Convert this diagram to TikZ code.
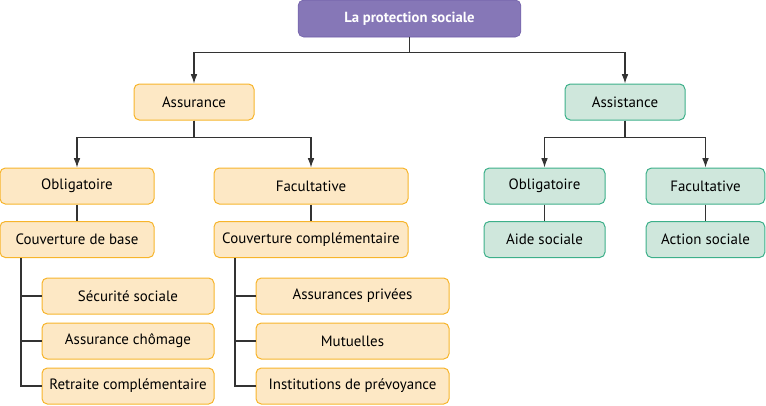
\documentclass[tikz,border=0pt]{standalone}
\usepackage{fontspec}
\setmainfont{PT Sans}
\usetikzlibrary{arrows.meta}
\definecolor{violet}{HTML}{8677B7}
\definecolor{violetline}{HTML}{6F5DA8}
\definecolor{orangefill}{HTML}{FDE8C5}
\definecolor{orangeline}{HTML}{F7B52C}
\definecolor{greenfill}{HTML}{CFE7DC}
\definecolor{greenline}{HTML}{3DB08A}
\begin{document}
\begin{tikzpicture}[x=0.75pt, y=-0.75pt, >={Latex[length=7pt,width=5pt]},
    every node/.style={font=\fontsize{11.2}{13}\selectfont, minimum height=27pt, inner sep=2pt},
    topbox/.style={draw=violetline, fill=violet, rounded corners=4pt, text=white, font=\fontsize{11}{13}\selectfont\bfseries},
    orangebox/.style={draw=orangeline, fill=orangefill, rounded corners=4pt, line width=0.75pt},
    greenbox/.style={draw=greenline, fill=greenfill, rounded corners=4pt, line width=0.75pt},
    link/.style={draw=black!80, line width=0.8pt}]
    \useasboundingbox (0,0) rectangle (766,405);
    \node[topbox, minimum width=167pt, minimum height=27.75pt] (top) at (409.5,18.5) {La protection sociale};
    \node[orangebox, minimum width=90pt] (assur) at (194,102) {Assurance};
    \node[greenbox, minimum width=90pt] (assist) at (625,102) {Assistance};
    \node[orangebox, minimum width=115.5pt] (oblig) at (77,186) {Obligatoire};
    \node[orangebox, minimum width=145.5pt] (facult) at (311,186) {Facultative};
    \node[greenbox, minimum width=90.75pt] (obligB) at (544.5,186) {Obligatoire};
    \node[greenbox, minimum width=89pt] (facultB) at (705.5,186) {Facultative};
    \node[orangebox, minimum width=115.5pt] (cbase) at (77,239.5) {Couverture de base};
    \node[orangebox, minimum width=145.5pt] (ccompl) at (311,239.5) {Couverture complémentaire};
    \node[greenbox, minimum width=90.75pt] (aide) at (544.5,239.5) {Aide sociale};
    \node[greenbox, minimum width=89pt] (action) at (705.5,239.5) {Action sociale};
    \node[orangebox, minimum width=129pt] (secu) at (128,296) {Sécurité sociale};
    \node[orangebox, minimum width=129pt] (chom) at (128,341) {Assurance chômage};
    \node[orangebox, minimum width=129pt] (retr) at (128,386) {Retraite complémentaire};
    \node[orangebox, minimum width=144.75pt] (priv) at (352.5,296) {Assurances privées};
    \node[orangebox, minimum width=144.75pt] (mut) at (352.5,341) {Mutuelles};
    \node[orangebox, minimum width=144.75pt] (inst) at (352.5,386) {Institutions de prévoyance};
    % tree
    \draw[link,->] (top.south) -- ++(0,15) -| (assur.north);
    \draw[link,->] (top.south) -- ++(0,15) -| (assist.north);
    \draw[link,->] (assur.south) -- ++(0,17) -| (oblig.north);
    \draw[link,->] (assur.south) -- ++(0,17) -| (facult.north);
    \draw[link,->] (assist.south) -- ++(0,17) -| (obligB.north);
    \draw[link,->] (assist.south) -- ++(0,17) -| (facultB.north);
    \draw[link] (oblig) -- (cbase);
    \draw[link] (facult) -- (ccompl);
    \draw[link] (obligB) -- (aide);
    \draw[link] (facultB) -- (action);
    \foreach \n in {secu,chom,retr}
        \draw[link] (cbase.south -| 21,0) |- (\n.west);
    \foreach \n in {priv,mut,inst}
        \draw[link] (ccompl.south -| 235,0) |- (\n.west);
\end{tikzpicture}
\end{document}
